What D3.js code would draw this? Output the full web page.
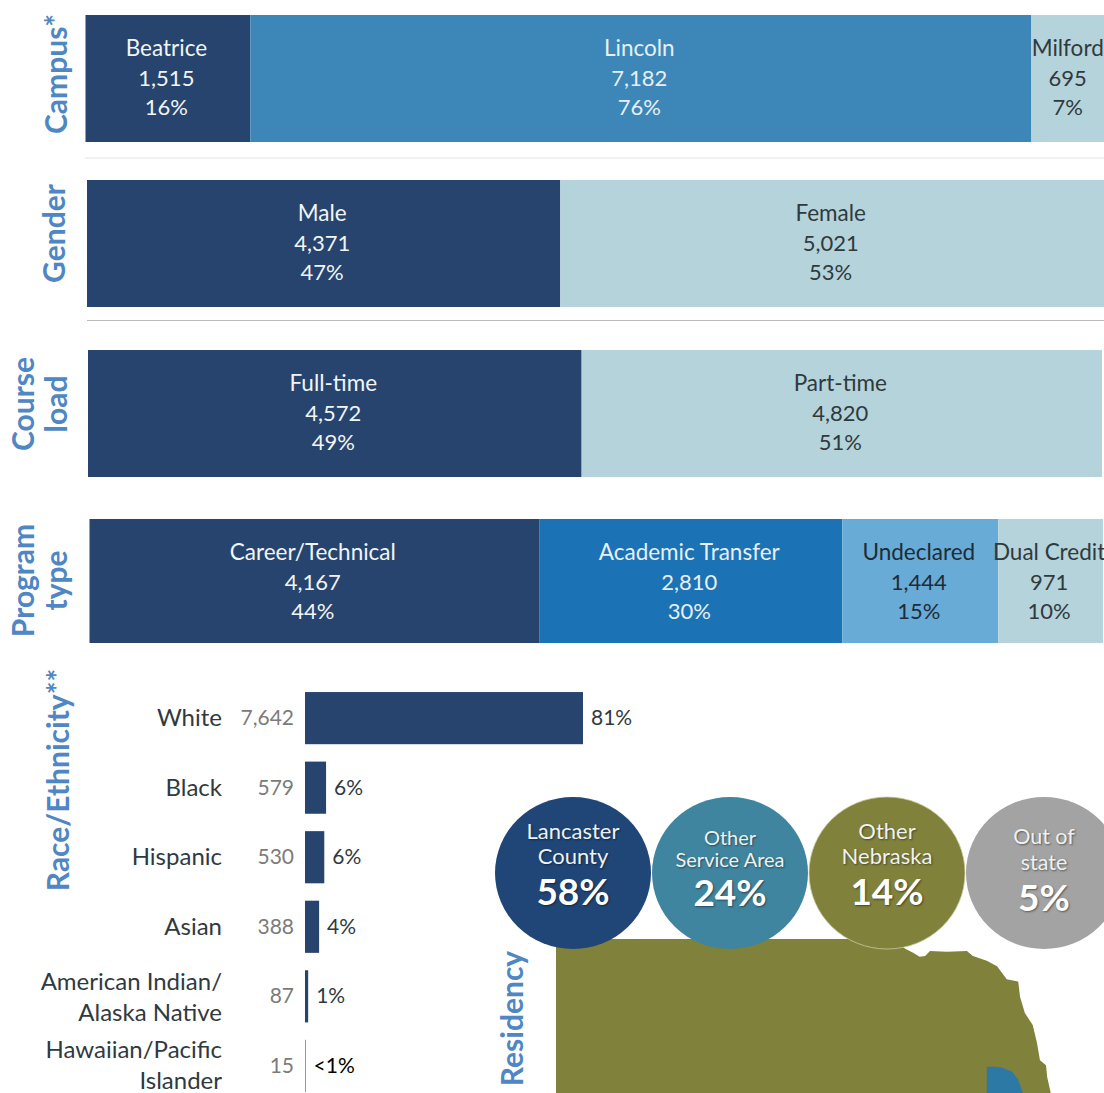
<!DOCTYPE html>
<html>
<head>
<meta charset="utf-8">
<script src="https://cdn.jsdelivr.net/npm/d3@7"></script>
<style>
html, body { margin: 0; padding: 0; background: #fff; }
svg { display: block; }
text { font-family: Lato, "Open Sans", sans-serif; }
.bubble-text { text-shadow: 1px 1px 2px rgba(0,0,0,.45); }
</style>
</head>
<body>
<div id="chart"></div>
<script>
var campusNames = ["Beatrice", "Lincoln", "Milford"];
var campusValues = [1515, 7182, 695];
var campusPct = ["16%", "76%", "7%"];

var genderNames = ["Male", "Female"];
var genderValues = [4371, 5021];
var genderPct = ["47%", "53%"];

var loadNames = ["Full-time", "Part-time"];
var loadValues = [4572, 4820];
var loadPct = ["49%", "51%"];

var programNames = ["Career/Technical", "Academic Transfer", "Undeclared", "Dual Credit"];
var programValues = [4167, 2810, 1444, 971];
var programPct = ["44%", "30%", "15%", "10%"];

var raceNames = [["White"], ["Black"], ["Hispanic"], ["Asian"], ["American Indian/", "Alaska Native"], ["Hawaiian/Pacific", "Islander"]];
var raceValues = [7642, 579, 530, 388, 87, 15];
var racePct = ["81%", "6%", "6%", "4%", "1%", "<1%"];

var residencyNames = [["Lancaster", "County"], ["Other", "Service Area"], ["Other", "Nebraska"], ["Out of", "state"]];
var residencyPct = ["58%", "24%", "14%", "5%"];

// state outline, lon/lat
var stateLon = [-104.05, -98.5, -98.27, -98.14, -98.03, -97.94, -97.86, -97.58, -97.25, -97.15, -96.92, -96.75, -96.59, -96.4, -96.37, -96.29, -96.16, -96.09, -96.04, -95.94, -95.92, -95.86, -95.8, -104.05];
var stateLat = [43, 43, 42.88, 42.83, 42.78, 42.79, 42.85, 42.84, 42.85, 42.79, 42.73, 42.66, 42.5, 42.47, 42.28, 42.08, 41.93, 41.71, 41.49, 41.43, 41.28, 41.08, 40.3, 40.3];
var blueLon = [-96.92, -96.78, -96.67, -96.5, -96.4, -96.32, -96.25, -96.92];
var blueLat = [41.41, 41.41, 41.4, 41.35, 41.25, 41.08, 40.8, 40.8];

var navy = "#26446e", white = "#f2f5f7", darkText = "#2f3a3f", axisBlue = "#4f86c4";

var svg = d3.select("#chart").append("svg")
    .attr("width", 1104).attr("height", 1093).attr("viewBox", [0, 0, 1104, 1093]);

var drawStack = (names, values, pct, colors, inkColors, x0, x1, y0, y1) => {
    var x = d3.scaleLinear().domain([0, d3.sum(values)]).range([x0, x1]);
    var starts = d3.cumsum([0].concat(values));
    var g = svg.append("g");
    names.forEach((name, i) => {
        g.append("rect")
            .attr("x", x(starts[i])).attr("y", y0)
            .attr("width", x(starts[i + 1]) - x(starts[i])).attr("height", y1 - y0)
            .attr("fill", colors[i]);
        var cx = (x(starts[i]) + x(starts[i + 1])) / 2 - 1.5;
        [name, d3.format(",")(values[i]), pct[i]].forEach((t, k) => {
            g.append("text").attr("x", cx).attr("y", y0 + 41 + k * 29.5)
                .attr("text-anchor", "middle").attr("font-size", k == 0 ? 22.5 : 22)
                .attr("fill", inkColors[i]).text(t);
        });
    });
};

drawStack(campusNames, campusValues, campusPct, [navy, "#3c86b8", "#b5d3da"], [white, "#e6f0f6", darkText], 85.5, 1107, 15, 142);
drawStack(genderNames, genderValues, genderPct, [navy, "#b5d3da"], [white, darkText], 87, 1104, 180, 307);
drawStack(loadNames, loadValues, loadPct, [navy, "#b5d3da"], [white, darkText], 88, 1102, 350, 477);
drawStack(programNames, programValues, programPct, [navy, "#1b72b4", "#68abd6", "#b5d3da"], [white, "#e6f0f6", "#1e2c36", darkText], 89.5, 1103, 519, 643);

// separators
svg.append("line").attr("x1", 85).attr("x2", 1104).attr("y1", 158).attr("y2", 158).attr("stroke", "#e4e4e4");
svg.append("line").attr("x1", 87).attr("x2", 1104).attr("y1", 320.5).attr("y2", 320.5).attr("stroke", "#bcbcbc");

// rotated section titles
var sideTitle = (lines, cx, cy) => {
    lines.forEach((t, i) => {
        var tx = cx + (i - (lines.length - 1) / 2) * 33;
        svg.append("text").attr("transform", `translate(${tx},${cy}) rotate(-90)`)
            .attr("text-anchor", "middle").attr("dominant-baseline", "central")
            .attr("font-size", 30).attr("font-weight", 700).attr("fill", axisBlue).text(t);
    });
};
sideTitle(["Campus*"], 54.5, 74);
sideTitle(["Gender"], 53, 233.5);
sideTitle(["Course", "load"], 38, 404);
sideTitle(["Program", "type"], 38, 580.5);
sideTitle(["Race/Ethnicity**"], 57, 780);
sideTitle(["Residency"], 511, 1018.5);

// race bars
var raceX = d3.scaleLinear().domain([0, 7642]).range([305, 583]);
var raceY = d3.scaleBand().domain(d3.range(raceValues.length)).range([683, 1101]).paddingInner(0.25).paddingOuter(0.13);
raceValues.forEach((v, i) => {
    var y = raceY(i), h = raceY.bandwidth(), mid = y + h / 2;
    svg.append("rect").attr("x", raceX(0)).attr("y", y)
        .attr("width", raceX(v) - raceX(0)).attr("height", h).attr("fill", navy);
    svg.append("text").attr("x", 294).attr("y", mid + 7).attr("text-anchor", "end")
        .attr("font-size", 21).attr("fill", "#7b7b7b").text(d3.format(",")(v));
    svg.append("text").attr("x", raceX(v) + 8).attr("y", mid + 7)
        .attr("font-size", 21).attr("fill", i == 5 ? "#000" : darkText).text(racePct[i]);
    var lines = raceNames[i];
    lines.forEach((t, k) => {
        svg.append("text").attr("x", 222).attr("y", mid + 8 + (i == 4 ? 1.5 : 0) + (k - (lines.length - 1) / 2) * 31)
            .attr("text-anchor", "end").attr("font-size", 24).attr("fill", darkText).text(t);
    });
});

// map
var lonX = d3.scaleLinear().domain([-104.05, -96.9]).range([556, 988]);
var latY = d3.scaleLinear().domain([43, 41.42]).range([939, 1066]);
var ring = (lons, lats) => d3.line()(lons.map((d, i) => [lonX(d), latY(lats[i])])) + "Z";
svg.append("path").attr("d", ring(stateLon, stateLat)).attr("fill", "#80813b");
svg.append("path").attr("d", ring(blueLon, blueLat)).attr("fill", "#2c79a6");

// residency circles
var bubbleX = d3.scalePoint().domain(d3.range(4)).range([573, 1044]);
var bubbleColors = ["#1f4677", "#40859f", "#80813b", "#a3a3a3"];
var nameY = [[832, 857], [838, 860], [832, 857], [837, 863]];
var nameSize = [22, 20, 22, 21.5];
var pctY = [892, 893, 892, 898];
residencyNames.forEach((lines, i) => {
    svg.append("ellipse").attr("cx", bubbleX(i)).attr("cy", 873).attr("rx", 78).attr("ry", 76)
        .attr("fill", bubbleColors[i])
        .attr("stroke", i == 2 ? "#c9caa0" : "none").attr("stroke-width", 0.8);
    lines.forEach((t, k) => {
        svg.append("text").attr("class", "bubble-text").attr("x", bubbleX(i)).attr("y", nameY[i][k] + 7)
            .attr("text-anchor", "middle").attr("font-size", nameSize[i]).attr("fill", "#eef2f2").text(t);
    });
    svg.append("text").attr("class", "bubble-text").attr("x", bubbleX(i)).attr("y", pctY[i] + 13)
        .attr("text-anchor", "middle").attr("font-size", 37).attr("font-weight", 700)
        .attr("fill", "#fff").text(residencyPct[i]);
});
</script>
</body>
</html>
